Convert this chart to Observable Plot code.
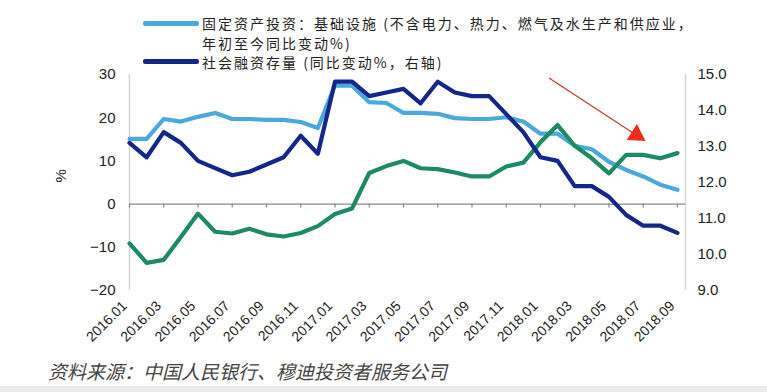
<!DOCTYPE html>
<html><head><meta charset="utf-8">
<script src="https://cdn.jsdelivr.net/npm/d3@7"></script>
<script src="https://cdn.jsdelivr.net/npm/@observablehq/plot@0.6"></script>
<style>
body{margin:0;background:#fff;}
#wrap{position:relative;width:767px;height:392px;overflow:hidden;background:#fff;font-family:"Liberation Sans",Arial,sans-serif;}
#legend{position:relative;height:66px;}
.sw{position:absolute;left:143px;width:56px;height:5px;border-radius:2px;}
.lt{position:absolute;left:202px;font-family:"Noto Sans CJK SC",sans-serif;font-size:14px;letter-spacing:2px;line-height:20px;color:#222;white-space:nowrap;}
#chart{height:290px;}
#caption{height:30px;line-height:30px;padding-left:48px;font-family:"Noto Sans CJK SC",sans-serif;font-style:italic;font-size:19px;color:#444;}
#band{height:6px;background:#ececec;}
</style>
</head><body>
<div id="wrap">
  <div id="legend">
    <div class="sw" style="top:21px;background:#4aa9dc"></div>
    <div class="lt" style="top:13px">固定资产投资：基础设施 (不含电力、热力、燃气及水生产和供应业，</div>
    <div class="lt" style="top:33px">年初至今同比变动%)</div>
    <div class="sw" style="top:59px;background:#13278a"></div>
    <div class="lt" style="top:52px">社会融资存量 (同比变动%，右轴)</div>
  </div>
  <div id="chart"></div>
  <div id="caption">资料来源：中国人民银行、穆迪投资者服务公司</div>
  <div id="band"></div>
</div>
<script>
const months = ["2016.01","2016.02","2016.03","2016.04","2016.05","2016.06","2016.07","2016.08","2016.09","2016.10","2016.11","2016.12",
"2017.01","2017.02","2017.03","2017.04","2017.05","2017.06","2017.07","2017.08","2017.09","2017.10","2017.11","2017.12",
"2018.01","2018.02","2018.03","2018.04","2018.05","2018.06","2018.07","2018.08","2018.09"];
const tickLabels = ["2016.01","2016.03","2016.05","2016.07","2016.09","2016.11","2017.01","2017.03","2017.05","2017.07","2017.09","2017.11","2018.01","2018.03","2018.05","2018.07","2018.09"];
// 固定资产投资：基础设施 (left axis, %)
const infra = [15.1,15.1,19.7,19.1,20.2,21.1,19.7,19.7,19.5,19.5,19.0,17.6,27.5,27.4,23.6,23.4,21.1,21.1,20.9,19.9,19.7,19.7,20.1,19.1,16.3,16.3,13.5,12.7,9.8,7.9,6.4,4.5,3.3];
// 社会融资存量 (right axis, %)
const tsf = [13.1,12.7,13.4,13.1,12.6,12.4,12.2,12.3,12.5,12.7,13.3,12.8,14.8,14.8,14.4,14.5,14.6,14.2,14.8,14.5,14.4,14.4,13.9,13.4,12.7,12.6,11.9,11.9,11.6,11.1,10.8,10.8,10.6];
// third series (left axis, %)
const green = [-9.1,-13.6,-12.9,-7.6,-2.2,-6.4,-6.8,-5.7,-7.0,-7.5,-6.7,-5.1,-2.3,-1.0,7.2,8.8,10.0,8.3,8.1,7.3,6.4,6.4,8.7,9.6,14.3,18.3,13.5,10.6,7.1,11.4,11.4,10.6,11.8];
const leftTicks = [-20,-10,0,10,20,30];
const rightTicks = [9,10,11,12,13,14,15];
// annotation arrow (month index, left-axis value)
const arrowLine = [{x1:24.5, y1:29.2, x2:29.5, y2:16.2}];
const arrowHead = [{x:29.6, y:16.0}];

const toLeft = v => (v - 9) * 50 / 6 - 20;
const fromLeft = v => (v + 20) * 6 / 50 + 9;
const tickIdx = tickLabels.map(l => months.indexOf(l));
const xMax = 32.47;
const series = (vals, f = d => d) => vals.map((v, i) => ({i, v: f(v)}));

const chart = Plot.plot({
  width: 767, height: 290,
  marginLeft: 129, marginRight: 82, marginTop: 8, marginBottom: 66,
  x: {type: "linear", domain: [0, xMax]},
  y: {domain: [-20, 30]},
  style: {fontFamily: "'Liberation Sans', Arial, sans-serif", fontSize: "15px", color: "#222", background: "transparent"},
  marks: [
    Plot.ruleX([0, xMax], {stroke: "#d6d6d6", strokeWidth: 1.5}),
    Plot.ruleY([0], {stroke: "#8a8a8a", strokeWidth: 1.3}),
    Plot.ruleX(tickIdx, {x: d => d, y1: 0, y2: -0.9, stroke: "#8a8a8a", strokeWidth: 1.2}),
    Plot.axisY(leftTicks, {anchor: "left", tickSize: 0, tickPadding: 14, label: null, fontSize: 15}),
    Plot.axisY(rightTicks.map(toLeft), {anchor: "right", tickSize: 0, tickPadding: 12, label: null, fontSize: 15, tickFormat: d => fromLeft(d).toFixed(1)}),
    Plot.axisX(tickIdx, {anchor: "bottom", tickSize: 0, tickRotate: -45, tickPadding: 13, dx: -5, label: null, fontSize: 14, tickFormat: i => months[i]}),
    Plot.text(["%"], {frameAnchor: "left", dx: -68, rotate: -90, text: d => d, fontSize: 15}),
    Plot.line(series(infra), {x: "i", y: "v", stroke: "#4aa9dc", strokeWidth: 4.2}),
    Plot.line(series(green), {x: "i", y: "v", stroke: "#1c8a63", strokeWidth: 4.2}),
    Plot.line(series(tsf, toLeft), {x: "i", y: "v", stroke: "#13278a", strokeWidth: 4.2}),
    Plot.link(arrowLine, {x1: "x1", y1: "y1", x2: "x2", y2: "y2", stroke: "#c0392b", strokeWidth: 1.2}),
    Plot.dot(arrowHead, {x: "x", y: "y", symbol: "triangle", r: 7, fill: "#f02a1c", stroke: "none", rotate: 123})
  ]
});
document.getElementById("chart").appendChild(chart);
</script>
</body></html>
